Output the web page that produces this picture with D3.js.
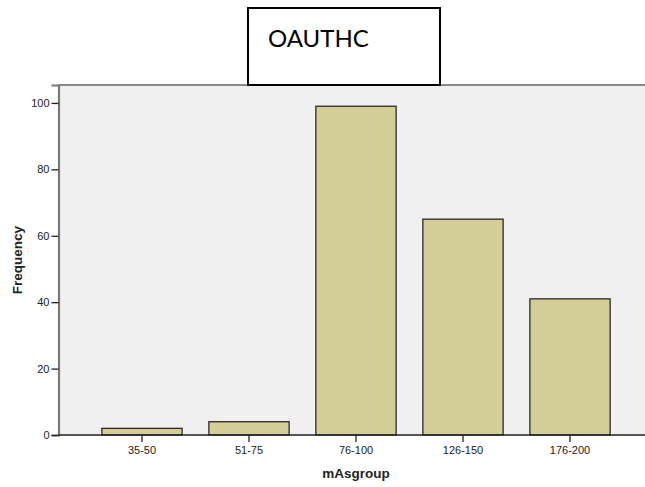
<!DOCTYPE html>
<html><head><meta charset="utf-8">
<script src="https://cdn.jsdelivr.net/npm/d3@7"></script>
<style>body{margin:0;background:#fff}svg{display:block}</style>
</head><body>
<script>
const categories = ["35-50","51-75","76-100","126-150","176-200"];
const frequencies = [2, 4, 99, 65, 41];
const yTicks = [0, 20, 40, 60, 80, 100];
const titleText = "OAUTHC";
const xTitle = "mAsgroup";
const yTitle = "Frequency";

const W = 645, H = 487;
const svg = d3.select("body").append("svg").attr("width", W).attr("height", H);

const plotLeft = 58.5, plotTop = 85, plotRight = 645, plotBottom = 435;
const y = d3.scaleLinear().domain([0, 105.4]).range([plotBottom, plotTop]);
const x = d3.scaleBand().domain(categories).range([88.5, 623.5]).paddingInner(0.25).paddingOuter(0.125);

// plot background
svg.append("rect").attr("x", plotLeft).attr("y", plotTop)
  .attr("width", plotRight - plotLeft).attr("height", plotBottom - plotTop)
  .attr("fill", "#f0f0f0");
// top border
svg.append("line").attr("x1", plotLeft).attr("x2", plotRight).attr("y1", plotTop).attr("y2", plotTop)
  .attr("stroke", "#8a8a8a").attr("stroke-width", 2);

// bars
svg.selectAll("rect.bar").data(categories).enter().append("rect")
  .attr("class", "bar")
  .attr("x", d => x(d))
  .attr("y", (d, i) => y(frequencies[i]))
  .attr("width", x.bandwidth())
  .attr("height", (d, i) => y(0) - y(frequencies[i]))
  .attr("fill", "#d3ce97").attr("stroke", "#2a2a2a").attr("stroke-width", 1.3);

// y axis
const yAxis = svg.append("g").attr("transform", `translate(${plotLeft},0)`)
  .call(d3.axisLeft(y).tickValues(yTicks).tickSize(7).tickPadding(2));
yAxis.select(".domain").attr("stroke", "#777").attr("stroke-width", 2.2);
yAxis.selectAll(".tick line").attr("stroke", "#222").attr("stroke-width", 1.3);
yAxis.selectAll(".tick text").attr("font-family", "Liberation Sans, Arial, sans-serif")
  .attr("font-size", 11).attr("fill", "#222");

// x axis
const xAxis = svg.append("g").attr("transform", `translate(0,${plotBottom})`)
  .call(d3.axisBottom(x).tickSize(7).tickPadding(4).tickSizeOuter(0));
xAxis.select(".domain").attr("d", `M${plotLeft},0H${plotRight}`).attr("stroke", "#222").attr("stroke-width", 1.5);
xAxis.selectAll(".tick line").attr("stroke", "#222").attr("stroke-width", 1.3);
xAxis.selectAll(".tick text").attr("font-family", "Liberation Sans, Arial, sans-serif")
  .attr("font-size", 11).attr("fill", "#222");

// axis titles
svg.append("text").attr("x", 356).attr("y", 478).attr("text-anchor", "middle")
  .attr("font-family", "Liberation Sans, Arial, sans-serif").attr("font-weight", "bold")
  .attr("font-size", 13.5).attr("fill", "#222").text(xTitle);
svg.append("text").attr("transform", "translate(22,260) rotate(-90)").attr("text-anchor", "middle")
  .attr("font-family", "Liberation Sans, Arial, sans-serif").attr("font-weight", "bold")
  .attr("font-size", 13.5).attr("fill", "#222").text(yTitle);

// title box
svg.append("rect").attr("x", 248).attr("y", 8).attr("width", 192).attr("height", 77)
  .attr("fill", "#fff").attr("stroke", "#000").attr("stroke-width", 2);
svg.append("text").attr("x", 268).attr("y", 47)
  .attr("font-family", "Lato, 'Open Sans', sans-serif").attr("font-size", 24)
  .attr("fill", "#000").text(titleText);
</script>
</body></html>
